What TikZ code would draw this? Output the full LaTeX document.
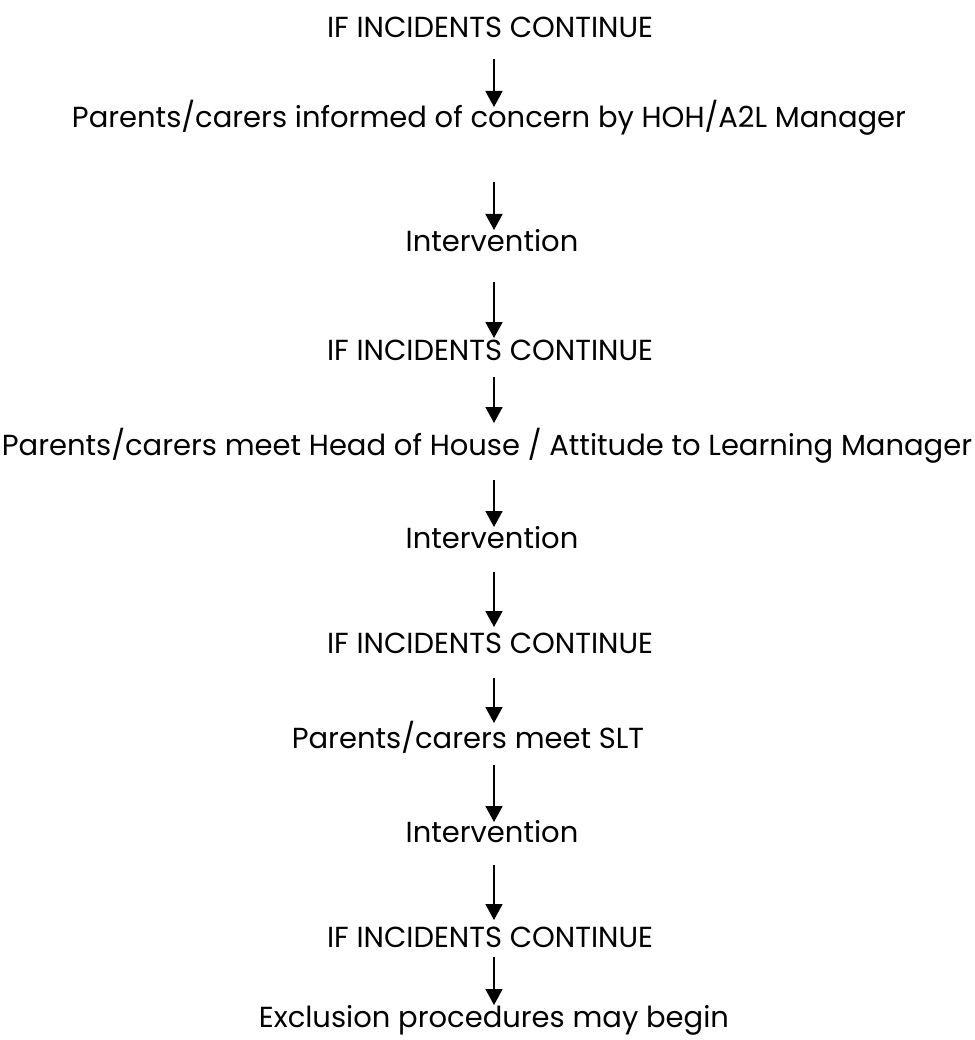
\documentclass[tikz,border=0pt]{standalone}
\usepackage{fontspec}
\setmainfont{Poppins}
\usetikzlibrary{arrows.meta}
\begin{document}
\begin{tikzpicture}[x=1pt,y=1pt,
  txt/.style={anchor=base,inner sep=0pt,font=\fontsize{29}{34}\selectfont},
  arr/.style={line width=1.7pt,-{Triangle[width=17pt,length=16pt]}}]
\useasboundingbox (0,0) rectangle (974,-1040);
\coordinate (X) at (494,0);
\node[txt] (t1) at (490,-38) {IF INCIDENTS CONTINUE};
\node[txt] (t2) at (489,-128) {Parents/carers informed of concern by HOH/A2L Manager};
\node[txt] (t3) at (492,-252) {Intervention};
\node[txt] (t4) at (490,-360) {IF INCIDENTS CONTINUE};
\node[txt] (t5) at (487,-455) {Parents/carers meet Head of House / Attitude to Learning Manager};
\node[txt] (t6) at (492,-548) {Intervention};
\node[txt] (t7) at (490,-653) {IF INCIDENTS CONTINUE};
\node[txt] (t8) at (468,-748) {Parents/carers meet SLT};
\node[txt] (t9) at (492,-842) {Intervention};
\node[txt] (t10) at (490,-947) {IF INCIDENTS CONTINUE};
\node[txt] (t11) at (494,-1027) {Exclusion procedures may begin};
\draw[arr,shorten <=21pt,shorten >=21pt] (t1.base -| X) -- (t2.base -| X);
\draw[arr,shorten <=54pt,shorten >=22pt] (t2.base -| X) -- (t3.base -| X);
\draw[arr,shorten <=30pt,shorten >=22pt] (t3.base -| X) -- (t4.base -| X);
\draw[arr,shorten <=17pt,shorten >=32pt] (t4.base -| X) -- (t5.base -| X);
\draw[arr,shorten <=25pt,shorten >=21pt] (t5.base -| X) -- (t6.base -| X);
\draw[arr,shorten <=24pt,shorten >=26pt] (t6.base -| X) -- (t7.base -| X);
\draw[arr,shorten <=25pt,shorten >=25pt] (t7.base -| X) -- (t8.base -| X);
\draw[arr,shorten <=17pt,shorten >=20pt] (t8.base -| X) -- (t9.base -| X);
\draw[arr,shorten <=23pt,shorten >=27pt] (t9.base -| X) -- (t10.base -| X);
\draw[arr,shorten <=10pt,shorten >=22pt] (t10.base -| X) -- (t11.base -| X);
\end{tikzpicture}
\end{document}
